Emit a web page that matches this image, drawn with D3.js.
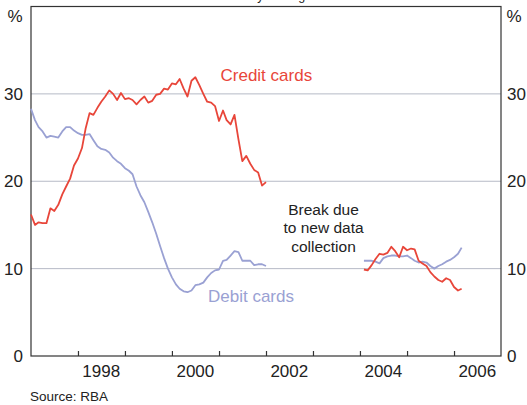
<!DOCTYPE html>
<html>
<head>
<meta charset="utf-8">
<script src="https://cdn.jsdelivr.net/npm/d3@7"></script>
<style>
  body { margin: 0; background: #fff; }
  svg { display: block; font-family: "Liberation Sans", Arial, sans-serif; }
  .grid line { stroke: #b6bac6; stroke-width: 1; }
  .frame { fill: none; stroke: #333; stroke-width: 1.2; }
  .tickLabel { font-size: 17px; fill: #222; }
</style>
</head>
<body>
<script>
(function (){

    //pseudo-global data
    var yTicks = [0, 10, 20, 30];
    var yearTicks = [1998, 1999, 2000, 2001, 2002, 2003, 2004, 2005, 2006];
    var yearLabels = ["1998", "2000", "2002", "2004", "2006"];

    //monthly values, first block starts Jan 1997
    var creditBefore = [16.2, 15.0, 15.3, 15.2, 15.2, 16.9, 16.6, 17.3, 18.5, 19.4, 20.3, 21.8,
        22.6, 23.8, 26.0, 27.8, 27.6, 28.4, 29.1, 29.7, 30.4, 30.0, 29.3, 30.1,
        29.4, 29.5, 29.3, 28.8, 29.3, 29.7, 29.0, 29.2, 29.9, 30.0, 30.6, 30.5,
        31.2, 31.1, 31.7, 30.6, 29.7, 31.5, 31.9, 31.0, 30.0, 29.1, 29.0, 28.6,
        26.9, 28.1, 27.0, 26.5, 27.6, 24.8, 22.3, 22.9, 22.0, 21.3, 21.0, 19.5,
        19.9];
    var debitBefore = [28.3, 27.0, 26.2, 25.7, 25.0, 25.2, 25.1, 25.0, 25.7, 26.2, 26.2, 25.8,
        25.5, 25.3, 25.3, 25.4, 24.7, 24.0, 23.7, 23.6, 23.3, 22.7, 22.3, 22.0,
        21.5, 21.2, 20.8, 19.4, 18.4, 17.6, 16.5, 15.3, 14.0, 12.6, 11.2, 10.0,
        9.0, 8.2, 7.7, 7.4, 7.3, 7.5, 8.1, 8.2, 8.4, 9.0, 9.5, 9.8,
        9.9, 10.9, 11.0, 11.5, 12.0, 11.9, 10.9, 10.9, 10.9, 10.4, 10.5, 10.5,
        10.3];
    //second block starts Feb 2004
    var creditAfter = [9.9, 9.8, 10.4, 11.1, 11.7, 11.6, 11.8, 12.5, 12.0, 11.3, 12.5,
        12.1, 12.3, 12.2, 10.9, 10.6, 10.3, 9.6, 9.1, 8.7, 8.5, 8.9, 8.7, 7.9, 7.5, 7.7];
    var debitAfter = [10.9, 10.9, 10.9, 10.8, 10.6, 11.2, 11.4, 11.5, 11.5, 11.4, 11.4,
        11.5, 11.2, 10.9, 10.7, 10.8, 10.7, 10.3, 10.0, 10.3, 10.5, 10.8, 11.0, 11.3, 11.7, 12.4];

    var width = 527,
        height = 405,
        left = 31,
        right = 501,
        top = 6.5,
        bottom = 356;

    var svg = d3.select("body")
        .append("svg")
        .attr("width", width)
        .attr("height", height);

    var x = d3.scaleTime()
        .domain([new Date(1997, 0, 1), new Date(2007, 0, 1)])
        .range([left, right]);

    var y = d3.scaleLinear()
        .domain([0, 40])
        .range([bottom, top]);

    //turn a block of monthly values into points
    function toPoints(values, startYear, startMonth){
        return values.map(function(v, i){
            return { date: new Date(startYear, startMonth + i, 1), value: v };
        });
    }

    //gridlines
    svg.append("g")
        .attr("class", "grid")
        .selectAll("line")
        .data(yTicks.filter(function(d){ return d > 0; }))
        .enter()
        .append("line")
        .attr("x1", left)
        .attr("x2", right)
        .attr("y1", function(d){ return y(d); })
        .attr("y2", function(d){ return y(d); });

    //year ticks pointing up from the bottom axis
    var xAxis = d3.axisTop(x)
        .tickValues(yearTicks.map(function(d){ return new Date(d, 0, 1); }))
        .tickSize(5)
        .tickFormat("");
    var xg = svg.append("g")
        .attr("transform", "translate(0," + bottom + ")")
        .call(xAxis);
    xg.select(".domain").remove();
    xg.selectAll("line").attr("stroke", "#333").attr("stroke-width", 1.2);

    //year labels sit in the middle of the year
    svg.selectAll(".yearLabel")
        .data(yearLabels)
        .enter()
        .append("text")
        .attr("class", "tickLabel")
        .attr("x", function(d){ return x(new Date(+d, 6, 1)); })
        .attr("y", 376.5)
        .attr("text-anchor", "middle")
        .text(function(d){ return d; });

    //y labels both sides
    var yLeft = d3.axisLeft(y).tickValues(yTicks).tickSize(0).tickPadding(8);
    var yRight = d3.axisRight(y).tickValues(yTicks).tickSize(0).tickPadding(6);
    [[yLeft, left], [yRight, right]].forEach(function(a){
        var g = svg.append("g")
            .attr("transform", "translate(" + a[1] + ",0)")
            .call(a[0]);
        g.select(".domain").remove();
        g.selectAll("text")
            .attr("class", "tickLabel")
            .attr("font-family", null)
            .attr("font-size", null)
            .attr("fill", "#222");
    });

    //frame
    svg.append("rect")
        .attr("class", "frame")
        .attr("x", left)
        .attr("y", top)
        .attr("width", right - left)
        .attr("height", bottom - top);

    //percent units
    svg.append("text").attr("class", "tickLabel").attr("x", 15).attr("y", 21.5)
        .attr("text-anchor", "middle").text("%");
    svg.append("text").attr("class", "tickLabel").attr("x", 514).attr("y", 21.5)
        .attr("text-anchor", "middle").text("%");

    //lines
    var line = d3.line()
        .x(function(d){ return x(d.date); })
        .y(function(d){ return y(d.value); });

    var series = [
        { values: toPoints(debitBefore, 1997, 0), color: "#9aa1d3" },
        { values: toPoints(debitAfter, 2004, 1), color: "#9aa1d3" },
        { values: toPoints(creditBefore, 1997, 0), color: "#e8463a" },
        { values: toPoints(creditAfter, 2004, 1), color: "#e8463a" }
    ];

    svg.selectAll(".series")
        .data(series)
        .enter()
        .append("path")
        .attr("class", "series")
        .attr("fill", "none")
        .attr("stroke", function(d){ return d.color; })
        .attr("stroke-width", 1.8)
        .attr("stroke-linejoin", "round")
        .attr("d", function(d){ return line(d.values); });

    //series labels
    svg.append("text")
        .attr("x", 220.5).attr("y", 80.5)
        .attr("font-size", "17px").attr("fill", "#e8463a")
        .text("Credit cards");
    svg.append("text")
        .attr("x", 208).attr("y", 301.5)
        .attr("font-size", "17px").attr("fill", "#9aa1d3")
        .text("Debit cards");

    //break note
    var note = svg.append("text")
        .attr("x", 323.5)
        .attr("font-size", "15.5px")
        .attr("fill", "#222")
        .attr("text-anchor", "middle");
    ["Break due", "to new data", "collection"].forEach(function(t, i){
        note.append("tspan").attr("x", 323.5).attr("y", 215 + i * 18.3).text(t);
    });

    //title sits above the picture, only its descenders show
    svg.append("text")
        .attr("x", 266).attr("y", -0.5)
        .attr("font-size", "12.5px").attr("fill", "#222")
        .attr("text-anchor", "middle")
        .text("Monthly average");

    //source
    svg.append("text")
        .attr("x", 30).attr("y", 401)
        .attr("font-size", "13.5px").attr("fill", "#222")
        .text("Source: RBA");

})();
</script>
</body>
</html>
